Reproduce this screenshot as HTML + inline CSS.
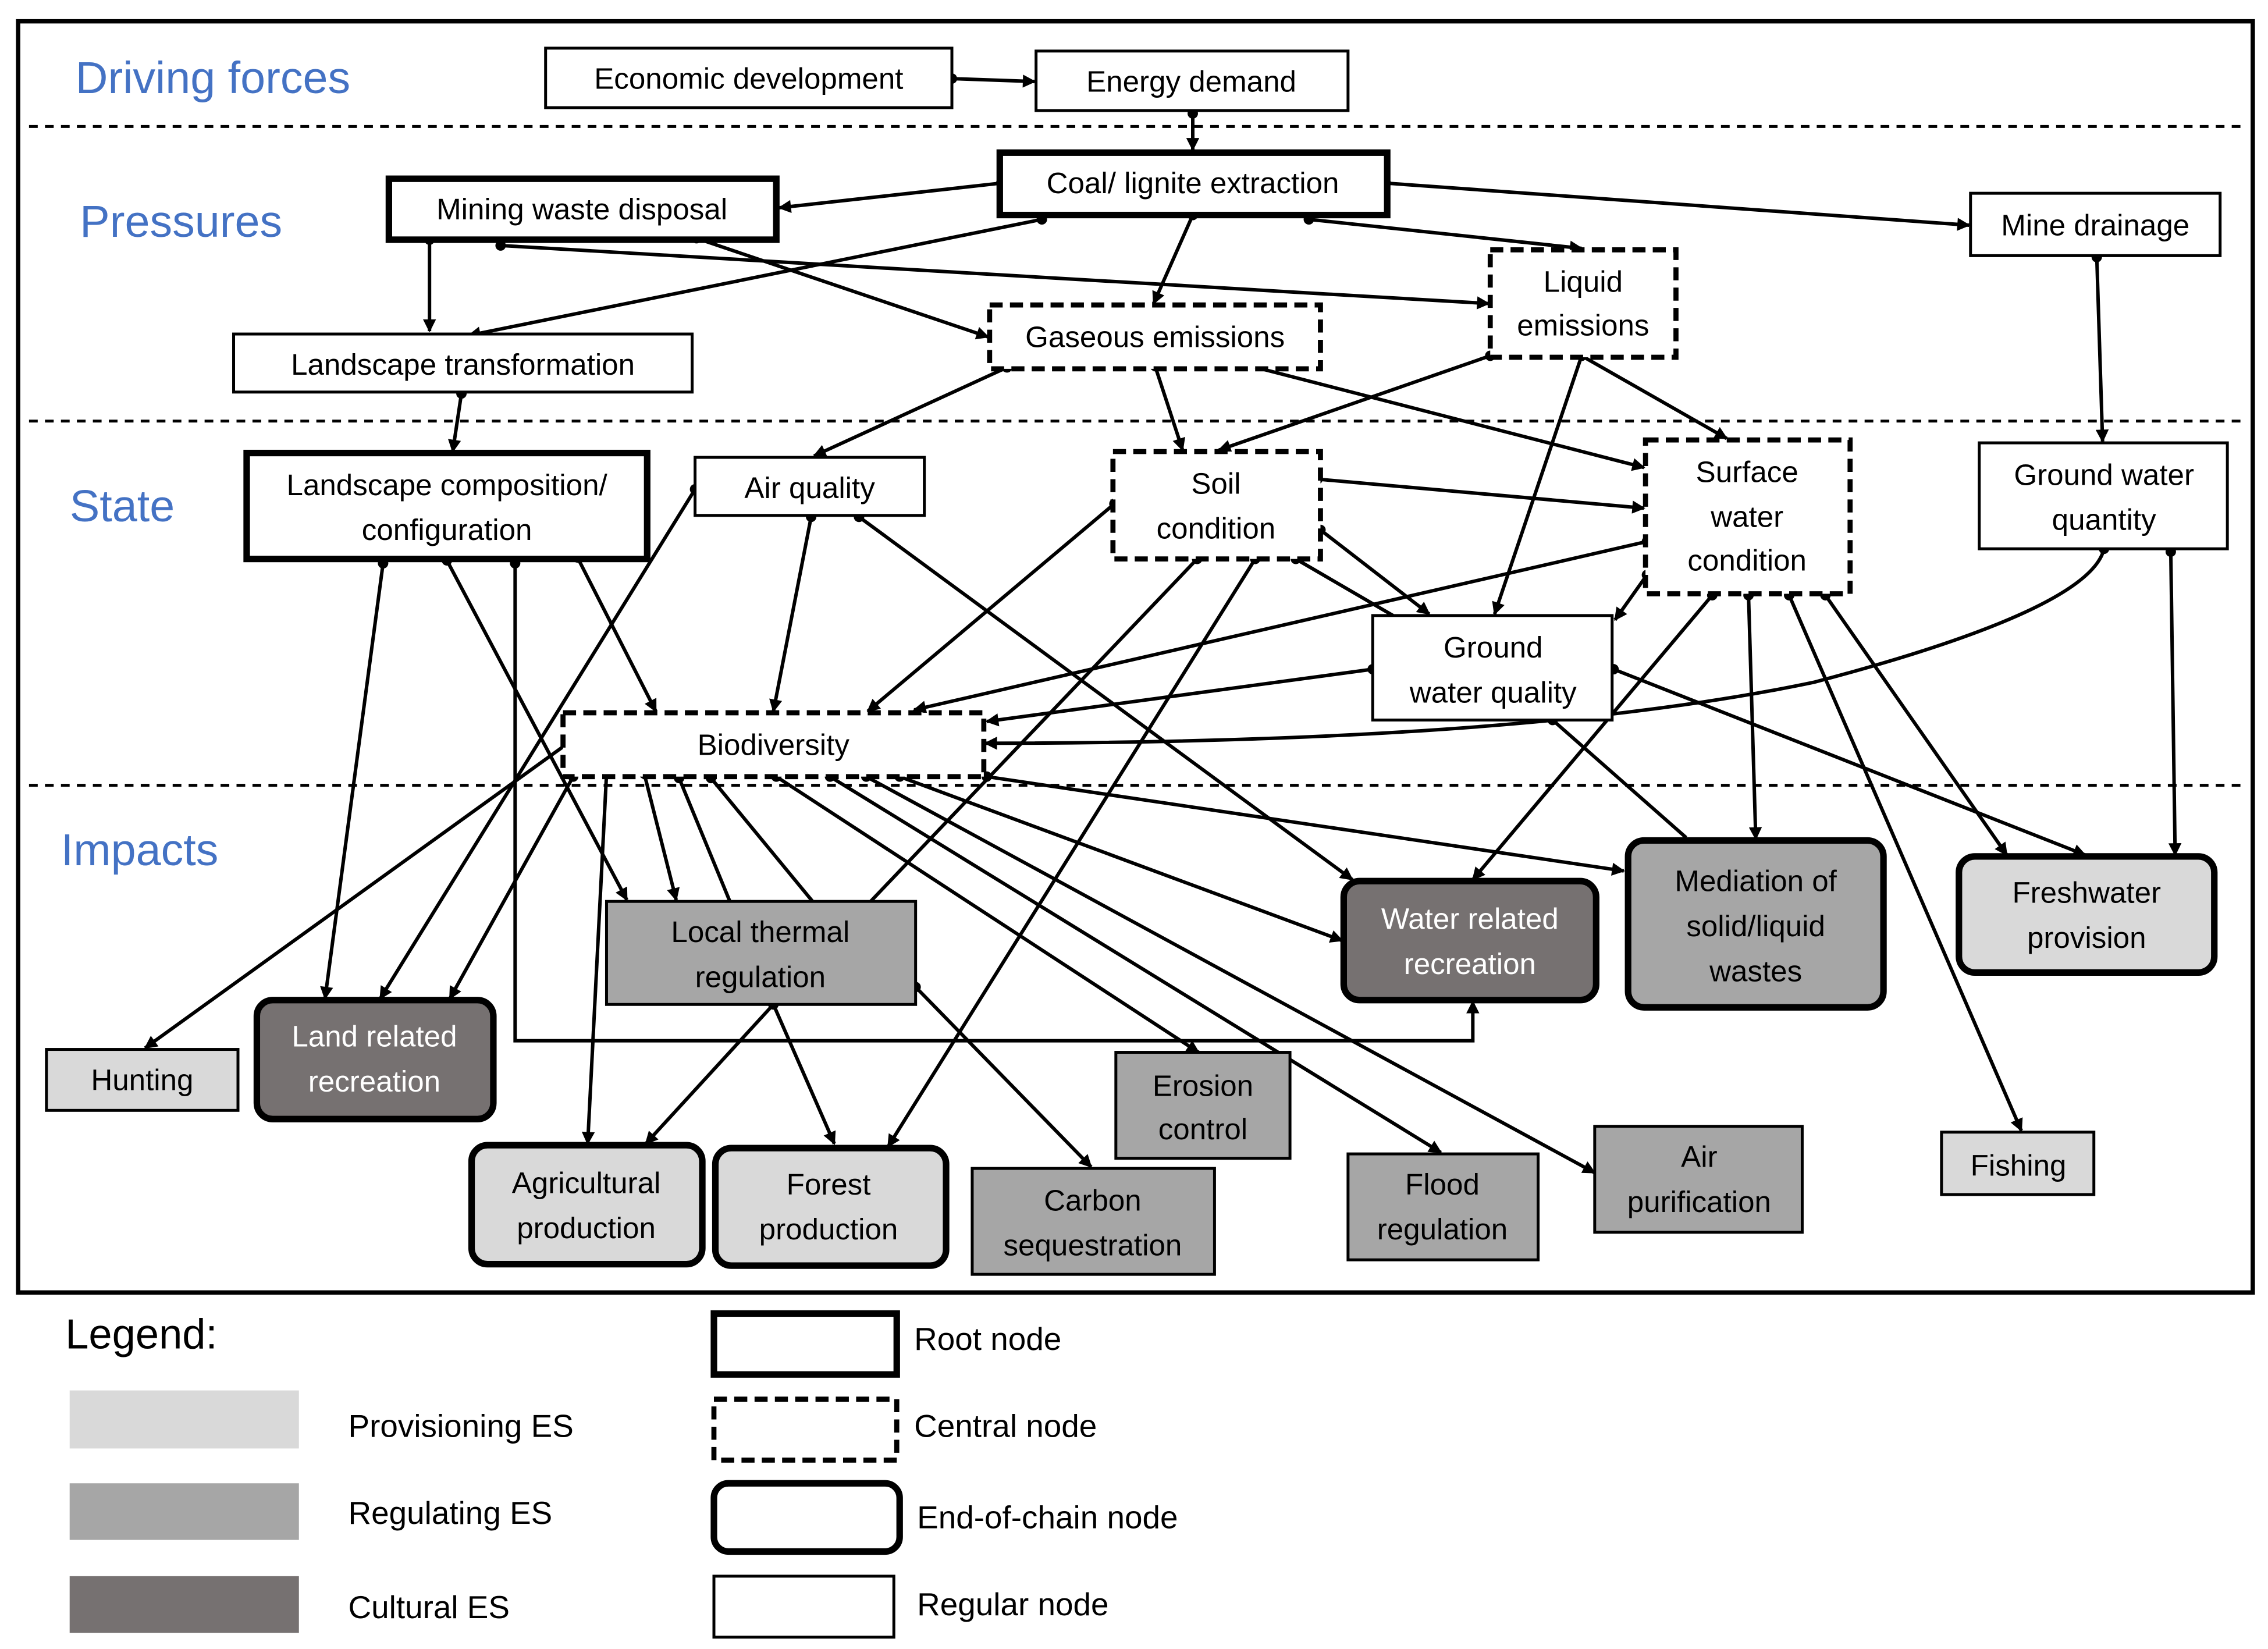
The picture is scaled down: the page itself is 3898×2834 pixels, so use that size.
<!DOCTYPE html>
<html><head><meta charset="utf-8"><style>
html,body{margin:0;padding:0;background:#fff;}
svg{display:block;}
text{font-family:"Liberation Sans",sans-serif;font-size:20.5px;fill:#000;}
.sec{fill:#4472C4;font-size:31px;}
.w{fill:#fff;}
</style></head><body>
<svg width="3898" height="2834" viewBox="0 0 1563 1136" xmlns="http://www.w3.org/2000/svg">
<defs>
<marker id="a" viewBox="0 0 10 10" refX="9" refY="5" markerWidth="11" markerHeight="9" orient="auto" markerUnits="userSpaceOnUse"><path d="M0,0 L10,5 L0,10 z" fill="#000"/></marker>
<marker id="d" viewBox="0 0 10 10" refX="5" refY="5" markerWidth="8" markerHeight="8" markerUnits="userSpaceOnUse"><circle cx="5" cy="5" r="4.5" fill="#000"/></marker>
<style>.c{stroke:#000;stroke-width:2.4;fill:none;marker-start:url(#d);marker-end:url(#a);} .p{stroke:#000;stroke-width:2.4;fill:none;marker-start:url(#d);}</style>
</defs>
<rect x="0" y="0" width="1563" height="1136" fill="#fff"/>
<rect x="12.5" y="14.5" width="1540" height="876" fill="none" stroke="#000" stroke-width="3"/>
<g stroke="#000" stroke-width="2" stroke-dasharray="6,5">
<line x1="20" y1="87" x2="1548" y2="87"/><line x1="20" y1="290" x2="1548" y2="290"/><line x1="20" y1="541" x2="1548" y2="541"/>
</g>
<text class="sec" x="52" y="64">Driving forces</text>
<text class="sec" x="55" y="163">Pressures</text>
<text class="sec" x="48" y="359">State</text>
<text class="sec" x="42" y="596">Impacts</text>

<g>
<line class="c" x1="656" y1="54" x2="713" y2="56"/>
<line class="c" x1="822" y1="78" x2="822" y2="103"/>
<line class="c" x1="690" y1="126" x2="537" y2="143"/>
<line class="c" x1="955" y1="126" x2="1357" y2="155"/>
<line class="c" x1="822" y1="148" x2="795" y2="209"/>
<line class="c" x1="902" y1="151" x2="1090" y2="171"/>
<line class="c" x1="718" y1="151" x2="323" y2="231"/>
<line class="c" x1="296" y1="165" x2="296" y2="228"/>
<line class="c" x1="345" y1="169" x2="1026" y2="209"/>
<line class="c" x1="480" y1="164" x2="681" y2="232"/>
<line class="c" x1="1445" y1="177" x2="1449" y2="304"/>
<line class="c" x1="318" y1="271" x2="312" y2="311"/>
<line class="c" x1="694" y1="253" x2="561" y2="314"/>
<line class="c" x1="796" y1="252" x2="815" y2="310"/>
<line class="c" x1="850" y1="249" x2="1133" y2="322"/>
<line class="c" x1="1027" y1="245" x2="840" y2="310"/>
<line class="c" x1="1090" y1="245" x2="1190" y2="302"/>
<line class="c" x1="1090" y1="245" x2="1030" y2="423"/>
<line class="c" x1="908" y1="330" x2="1133" y2="350"/>
<line class="c" x1="910" y1="365" x2="985" y2="423"/>
<line class="p" x1="893" y1="385" x2="960" y2="424"/>
<line class="c" x1="1135" y1="396" x2="1113" y2="427"/>
<line class="c" x1="1135" y1="373" x2="630" y2="489"/>
<line class="c" x1="768" y1="347" x2="598" y2="490"/>
<line class="c" x1="946" y1="461" x2="680" y2="497"/>
<path class="c" d="M1450,378 Q1440,420 1250,470 Q1050,512 679,512"/>
<line class="c" x1="1496" y1="380" x2="1499" y2="589"/>
<line class="c" x1="559" y1="356" x2="533" y2="490"/>
<line class="c" x1="479" y1="337" x2="262" y2="688"/>
<line class="c" x1="592" y1="356" x2="932" y2="606"/>
<line class="c" x1="398" y1="384" x2="452" y2="490"/>
<line class="c" x1="264" y1="388" x2="224" y2="688"/>
<line class="c" x1="308" y1="386" x2="432" y2="620"/>
<path class="c" d="M355,388 L355,717 L1015,717 L1015,690"/>
<line class="c" x1="390" y1="513" x2="100" y2="722"/>
<line class="c" x1="395" y1="535" x2="310" y2="688"/>
<line class="c" x1="418" y1="533" x2="405" y2="788"/>
<line class="c" x1="444" y1="533" x2="466" y2="620"/>
<line class="p" x1="468" y1="536" x2="503" y2="621"/>
<line class="p" x1="490" y1="536" x2="560" y2="621"/>
<line class="c" x1="535" y1="535" x2="826" y2="725"/>
<line class="c" x1="572" y1="535" x2="993" y2="794"/>
<line class="c" x1="597" y1="535" x2="1099" y2="808"/>
<line class="c" x1="620" y1="535" x2="925" y2="648"/>
<line class="c" x1="680" y1="535" x2="1119" y2="600"/>
<line class="c" x1="631" y1="680" x2="752" y2="804"/>
<line class="c" x1="533" y1="692" x2="445" y2="788"/>
<line class="c" x1="533" y1="692" x2="575" y2="788"/>
<line class="p" x1="825" y1="385" x2="600" y2="621"/>
<line class="c" x1="865" y1="385" x2="612" y2="790"/>
<line class="c" x1="1180" y1="410" x2="1015" y2="606"/>
<line class="c" x1="1205" y1="410" x2="1210" y2="578"/>
<line class="c" x1="1233" y1="410" x2="1393" y2="779"/>
<line class="c" x1="1258" y1="410" x2="1383" y2="589"/>
<line class="c" x1="1112" y1="461" x2="1437" y2="589"/>
<line class="p" x1="1070" y1="496" x2="1162" y2="577"/>
</g>

<g stroke="#000" fill="#fff">
<rect x="376" y="33" width="280" height="41" stroke-width="2"/>
<rect x="714" y="35" width="215" height="41" stroke-width="2"/>
<rect x="689" y="105" width="267" height="43" stroke-width="4.5"/>
<rect x="268" y="123" width="267" height="42" stroke-width="4.5"/>
<rect x="1358" y="133" width="172" height="43" stroke-width="2"/>
<rect x="1027" y="172" width="128" height="74" stroke-width="3.5" stroke-dasharray="9,5"/>
<rect x="682" y="210" width="228" height="44" stroke-width="3.5" stroke-dasharray="9,5"/>
<rect x="161" y="230" width="316" height="40" stroke-width="2"/>
<rect x="170" y="312" width="276" height="73" stroke-width="4.5"/>
<rect x="479" y="315" width="158" height="40" stroke-width="2"/>
<rect x="767" y="311" width="143" height="74" stroke-width="3.5" stroke-dasharray="9,5"/>
<rect x="1134" y="303" width="141" height="106" stroke-width="3.5" stroke-dasharray="9,5"/>
<rect x="1364" y="305" width="171" height="73" stroke-width="2"/>
<rect x="946" y="424" width="165" height="72" stroke-width="2"/>
<rect x="388" y="491" width="290" height="44" stroke-width="3.5" stroke-dasharray="9,5"/>
<rect x="418" y="621" width="213" height="71" stroke-width="2" fill="#a6a6a6"/>
<rect x="926" y="607" width="174" height="82" rx="11" stroke-width="4.5" fill="#767171"/>
<rect x="1122" y="579" width="176" height="115" rx="11" stroke-width="4.5" fill="#a6a6a6"/>
<rect x="1350" y="590" width="176" height="80" rx="11" stroke-width="4.5" fill="#d9d9d9"/>
<rect x="32" y="723" width="132" height="42" stroke-width="2" fill="#d9d9d9"/>
<rect x="177" y="689" width="163" height="82" rx="11" stroke-width="4.5" fill="#767171"/>
<rect x="769" y="725" width="120" height="73" stroke-width="2" fill="#a6a6a6"/>
<rect x="325" y="789" width="159" height="82" rx="11" stroke-width="4.5" fill="#d9d9d9"/>
<rect x="493" y="791" width="159" height="81" rx="11" stroke-width="4.5" fill="#d9d9d9"/>
<rect x="670" y="805" width="167" height="73" stroke-width="2" fill="#a6a6a6"/>
<rect x="929" y="795" width="131" height="73" stroke-width="2" fill="#a6a6a6"/>
<rect x="1099" y="776" width="143" height="73" stroke-width="2" fill="#a6a6a6"/>
<rect x="1338" y="780" width="105" height="43" stroke-width="2" fill="#d9d9d9"/>
</g>

<g text-anchor="middle">
<text x="516" y="61">Economic development</text>
<text x="821" y="63">Energy demand</text>
<text x="822" y="133">Coal/ lignite extraction</text>
<text x="401" y="151">Mining waste disposal</text>
<text x="1444" y="162">Mine drainage</text>
<text x="1091" y="201">Liquid</text><text x="1091" y="231">emissions</text>
<text x="796" y="239">Gaseous emissions</text>
<text x="319" y="258">Landscape transformation</text>
<text x="308" y="341">Landscape composition/</text><text x="308" y="372">configuration</text>
<text x="558" y="343">Air quality</text>
<text x="838" y="340">Soil</text><text x="838" y="371">condition</text>
<text x="1204" y="332">Surface</text><text x="1204" y="363">water</text><text x="1204" y="393">condition</text>
<text x="1450" y="334">Ground water</text><text x="1450" y="365">quantity</text>
<text x="1029" y="453">Ground</text><text x="1029" y="484">water quality</text>
<text x="533" y="520">Biodiversity</text>
<text x="524" y="649">Local thermal</text><text x="524" y="680">regulation</text>
<text class="w" x="1013" y="640">Water related</text><text class="w" x="1013" y="671">recreation</text>
<text x="1210" y="614">Mediation of</text><text x="1210" y="645">solid/liquid</text><text x="1210" y="676">wastes</text>
<text x="1438" y="622">Freshwater</text><text x="1438" y="653">provision</text>
<text x="98" y="751">Hunting</text>
<text class="w" x="258" y="721">Land related</text><text class="w" x="258" y="752">recreation</text>
<text x="829" y="755">Erosion</text><text x="829" y="785">control</text>
<text x="404" y="822">Agricultural</text><text x="404" y="853">production</text>
<text x="571" y="823">Forest</text><text x="571" y="854">production</text>
<text x="753" y="834">Carbon</text><text x="753" y="865">sequestration</text>
<text x="994" y="823">Flood</text><text x="994" y="854">regulation</text>
<text x="1171" y="804">Air</text><text x="1171" y="835">purification</text>
<text x="1391" y="810">Fishing</text>
</g>

<text x="45" y="929" style="font-size:29px">Legend:</text>
<rect x="48" y="958" width="158" height="40" fill="#d9d9d9"/>
<rect x="48" y="1022" width="158" height="39" fill="#a6a6a6"/>
<rect x="48" y="1086" width="158" height="39" fill="#767171"/>
<text x="240" y="990" style="font-size:22px">Provisioning ES</text>
<text x="240" y="1050" style="font-size:22px">Regulating ES</text>
<text x="240" y="1115" style="font-size:22px">Cultural ES</text>
<g stroke="#000" fill="#fff">
<rect x="492" y="905" width="126" height="42" stroke-width="4.5"/>
<rect x="492" y="964" width="126" height="42" stroke-width="3.5" stroke-dasharray="9,5"/>
<rect x="492" y="1022" width="128" height="47" rx="10" stroke-width="4.5"/>
<rect x="492" y="1086" width="124" height="42" stroke-width="2"/>
</g>
<text x="630" y="930" style="font-size:22px">Root node</text>
<text x="630" y="990" style="font-size:22px">Central node</text>
<text x="632" y="1053" style="font-size:22px">End-of-chain node</text>
<text x="632" y="1113" style="font-size:22px">Regular node</text>
</svg>
</body></html>
